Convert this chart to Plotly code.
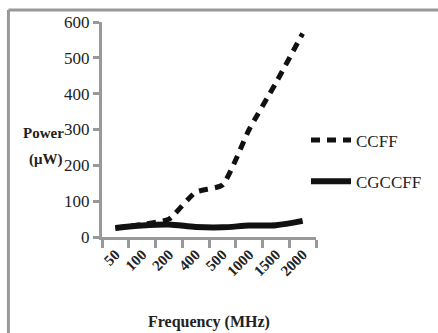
import plotly.graph_objects as go

freq = ["50", "100", "200", "400", "500", "1000", "1500", "2000"]
ccff = [25, 35, 50, 125, 145, 300, 430, 568]
cgccff = [25, 32, 35, 28, 27, 32, 33, 45]

W, H = 438, 333
L, R, T, B = 102, 121, 22, 96
pw, ph = W - L - R, H - T - B

def px(x):
    return (x - L) / pw

def py(y):
    return (H - B - y) / ph

font = "Liberation Serif"
fig = go.Figure()
fig.add_trace(go.Scatter(x=freq, y=ccff, name="CCFF", mode="lines", legendgroup="a",
                         line=dict(color="#111", width=5, dash="9px,7px", shape="spline", smoothing=0.5)))
fig.add_trace(go.Scatter(x=freq, y=cgccff, name="CGCCFF", mode="lines", legendgroup="b",
                         line=dict(color="#111", width=6, shape="spline", smoothing=0.8)))

fig.update_layout(
    width=W, height=H,
    margin=dict(l=L, r=R, t=T, b=B),
    paper_bgcolor="white", plot_bgcolor="white",
    font=dict(family=font, size=15, color="#222"),
    showlegend=True,
    legend=dict(x=px(306), y=py(161), xanchor="left", yanchor="middle",
                font=dict(family=font, size=17, color="#222"),
                bgcolor="rgba(0,0,0,0)", tracegroupgap=16, itemwidth=40,
                traceorder="grouped"),
    xaxis=dict(type="category", range=[-0.5, 7.5], tickson="boundaries",
               ticks="outside", ticklen=8, tickwidth=3, tickcolor="#999",
               showline=True, linecolor="#999", linewidth=3, showgrid=False,
               tickangle=-45, tickfont=dict(family=font, size=15, color="#222", weight="bold")),
    yaxis=dict(range=[0, 600], tickvals=[0, 100, 200, 300, 400, 500, 600],
               ticks="outside", ticklen=6, tickwidth=3, tickcolor="#999",
               showline=True, linecolor="#999", linewidth=3, showgrid=False,
               zeroline=False, tickfont=dict(family=font, size=17, color="#222")),
)

fig.add_annotation(text="<b>Power</b>", xref="paper", yref="paper", x=px(66), y=py(133),
                   xanchor="right", yanchor="middle", showarrow=False,
                   font=dict(family=font, size=15, color="#222"))
fig.add_annotation(text="<b>(μW)</b>", xref="paper", yref="paper", x=px(46), y=py(159),
                   xanchor="center", yanchor="middle", showarrow=False,
                   font=dict(family=font, size=15, color="#222"))
fig.add_annotation(text="<b>Frequency (MHz)</b>", xref="paper", yref="paper", x=px(210), y=py(322),
                   xanchor="center", yanchor="middle", showarrow=False,
                   font=dict(family=font, size=16, color="#222"))

# outer frame (top and left edges visible)
fig.add_shape(type="line", xref="paper", yref="paper", x0=px(8), x1=px(445), y0=py(10), y1=py(10),
              line=dict(color="#999", width=3))
fig.add_shape(type="line", xref="paper", yref="paper", x0=px(8), x1=px(8), y0=py(10), y1=py(340),
              line=dict(color="#999", width=3))

fig.write_html("out.html")
